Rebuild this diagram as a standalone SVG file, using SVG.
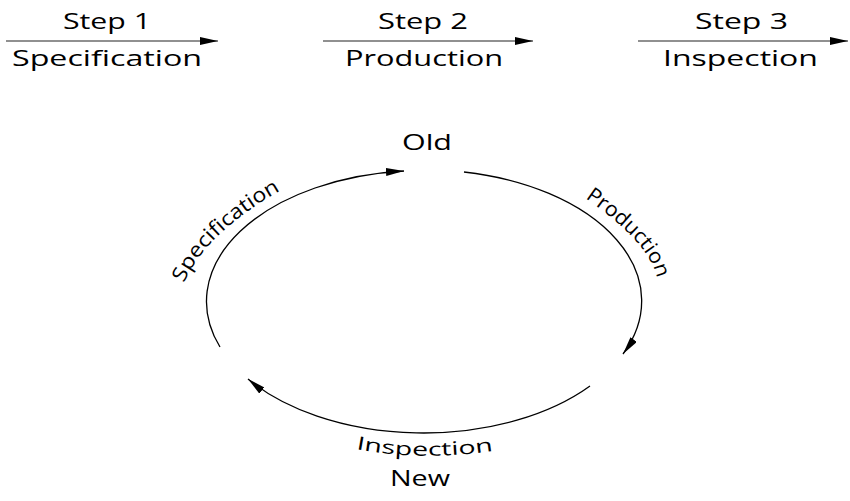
<svg xmlns="http://www.w3.org/2000/svg" width="850" height="501" viewBox="0 0 850 501">
<style>
  text { font-family: "Open Sans", "DejaVu Sans", sans-serif; fill: #000; }
  .big { font-size: 22px; }
  .lbl { font-size: 20.5px; }
  .lbl2 { font-size: 18.5px; }
  .step { stroke: #222; stroke-width: 1.1; fill: none; }
  .arc { stroke: #000; stroke-width: 1.3; fill: none; }
</style>
<defs>
  <marker id="ah" markerUnits="userSpaceOnUse" markerWidth="19" markerHeight="9" refX="18" refY="4" orient="auto">
    <path d="M0,0 L18,4 L0,8 Z" fill="#000"/>
  </marker>
  <path id="pSpec" d="M184 283 Q205 234 278 192 L300 180"/>
  <path id="pProd" d="M585 198 Q646 240 656 274 L662 294"/>
  <path id="pInsp" d="M356 449 Q425 462 498 450"/>
</defs>
<rect width="850" height="501" fill="#fff"/>

<g id="step1">
  <text class="big" x="63" y="29" textLength="88" lengthAdjust="spacingAndGlyphs">Step 1</text>
  <text class="big" x="12" y="66" textLength="190" lengthAdjust="spacingAndGlyphs">Specification</text>
</g>
<g id="step2">
  <text class="big" x="378" y="29" textLength="90" lengthAdjust="spacingAndGlyphs">Step 2</text>
  <text class="big" x="345" y="66" textLength="158" lengthAdjust="spacingAndGlyphs">Production</text>
</g>
<g id="step3">
  <text class="big" x="695" y="29" textLength="93" lengthAdjust="spacingAndGlyphs">Step 3</text>
  <text class="big" x="663" y="66" textLength="155" lengthAdjust="spacingAndGlyphs">Inspection</text>
</g>
<g id="old">
  <text class="big" x="402" y="150" textLength="50" lengthAdjust="spacingAndGlyphs">Old</text>
</g>
<g id="new">
  <text class="big" x="390" y="486" textLength="60" lengthAdjust="spacingAndGlyphs">New</text>
</g>

<g id="connectors">
  <line class="step" x1="6" y1="41" x2="218" y2="41" marker-end="url(#ah)"/>
  <line class="step" x1="323" y1="41" x2="533" y2="41" marker-end="url(#ah)"/>
  <line class="step" x1="638" y1="41" x2="848" y2="41" marker-end="url(#ah)"/>
  <path class="arc" d="M220 347 A217 131 0 0 1 404 171" marker-end="url(#ah)"/>
  <path class="arc" d="M464 172 A217 131 0 0 1 623 354" marker-end="url(#ah)"/>
  <path class="arc" d="M590 386 A217 131 0 0 1 248 379" marker-end="url(#ah)"/>
  <text class="lbl"><textPath href="#pSpec" textLength="136" lengthAdjust="spacingAndGlyphs">Specification</textPath></text>
  <text class="lbl"><textPath href="#pProd" textLength="110" lengthAdjust="spacingAndGlyphs">Production</textPath></text>
  <text class="lbl2"><textPath href="#pInsp" textLength="138" lengthAdjust="spacingAndGlyphs">Inspection</textPath></text>
</g>
</svg>
